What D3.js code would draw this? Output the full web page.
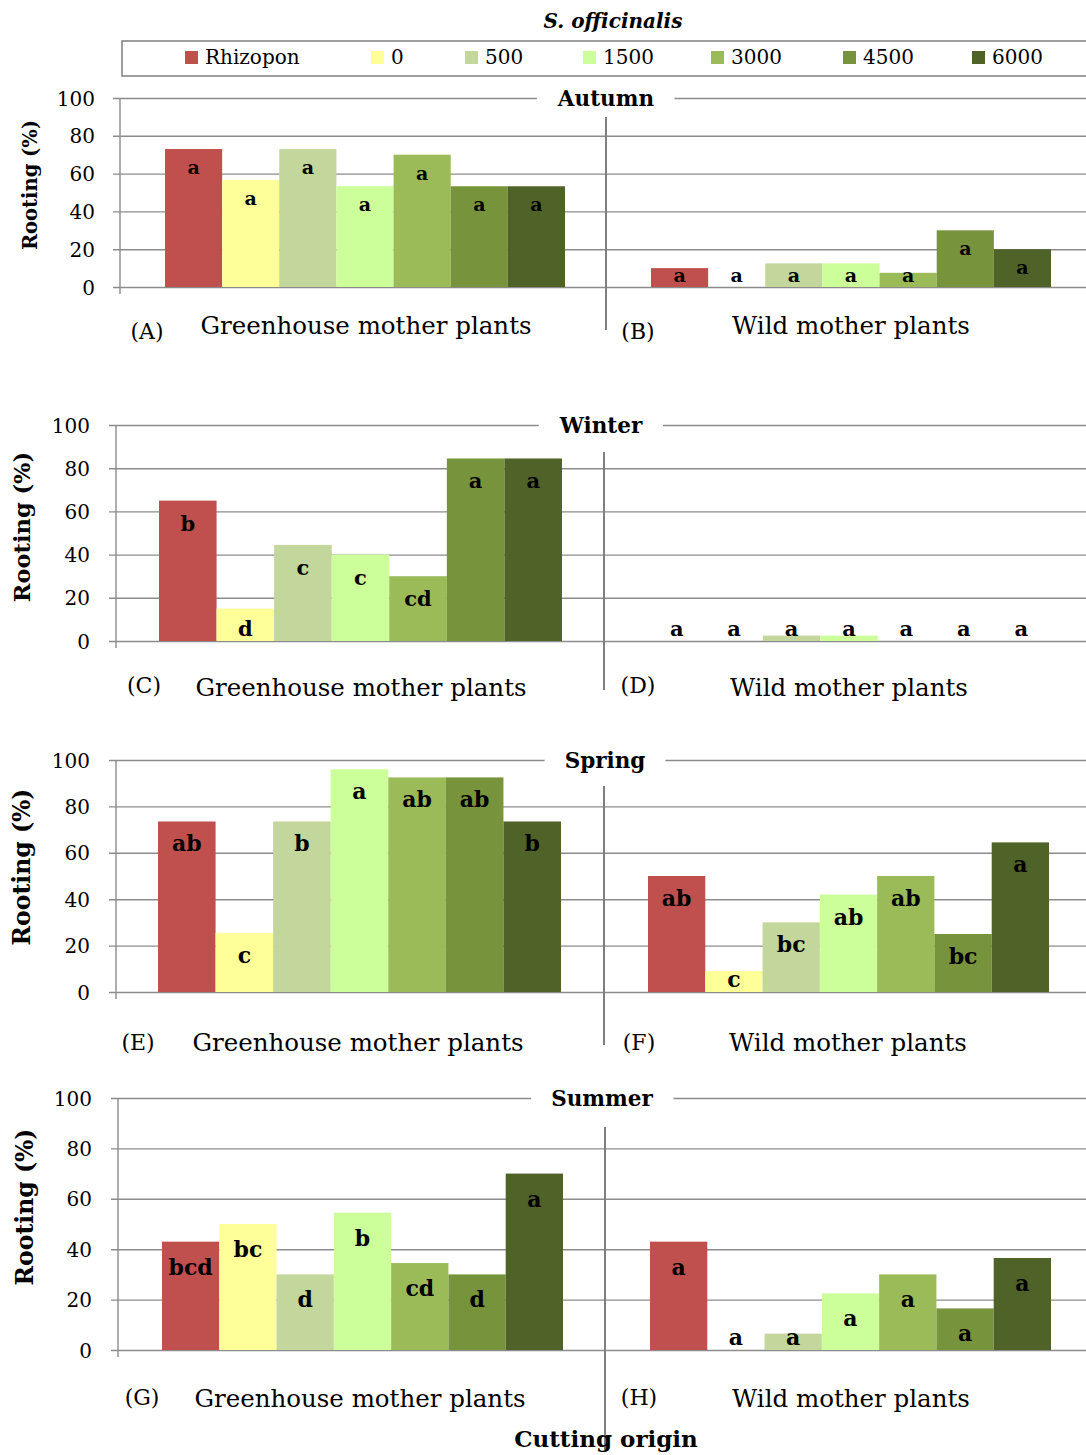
<!DOCTYPE html>
<html>
<head>
<meta charset="utf-8">
<script src="https://cdn.jsdelivr.net/npm/d3@7"></script>
<style>
  body { margin: 0; background: #fff; }
  svg { display: block; }
  text { font-family: "Palatino Linotype", "Book Antiqua", Palatino, "DejaVu Serif", serif; fill: #000; }
</style>
</head>
<body>
<div id="chart"></div>
<script>
// treatments (IBA ppm) and their colours
var treatments = ["Rhizopon", "0", "500", "1500", "3000", "4500", "6000"];
var colors = ["#C0504D", "#FFFF99", "#C3D69B", "#CCFF99", "#9BBB59", "#77933C", "#4F6228"];

var seasons = ["Autumn", "Winter", "Spring", "Summer"];
var origins = ["Greenhouse mother plants", "Wild mother plants"];
var tags = [["(A)", "(B)"], ["(C)", "(D)"], ["(E)", "(F)"], ["(G)", "(H)"]];
var yTicks = [0, 20, 40, 60, 80, 100];

// rooting (%)
var autumnGreen = [73, 56.7, 73, 53.3, 70, 53.3, 53.3];
var autumnWild = [10, 0, 12.5, 12.5, 7.5, 30, 20];
var winterGreen = [65, 15, 44.5, 40, 30, 84.5, 84.5];
var winterWild = [0, 0, 2.5, 2.5, 0, 0, 0];
var springGreen = [73.5, 25.5, 73.5, 96, 92.5, 92.5, 73.5];
var springWild = [50, 9, 30, 42, 50, 25, 64.5];
var summerGreen = [43, 50, 30, 54.5, 34.5, 30, 70];
var summerWild = [43, 0, 6.5, 22.5, 30, 16.5, 36.5];

// significance letters
var autumnGreenL = ["a", "a", "a", "a", "a", "a", "a"];
var autumnWildL = ["a", "a", "a", "a", "a", "a", "a"];
var winterGreenL = ["b", "d", "c", "c", "cd", "a", "a"];
var winterWildL = ["a", "a", "a", "a", "a", "a", "a"];
var springGreenL = ["ab", "c", "b", "a", "ab", "ab", "b"];
var springWildL = ["ab", "c", "bc", "ab", "ab", "bc", "a"];
var summerGreenL = ["bcd", "bc", "d", "b", "cd", "d", "a"];
var summerWildL = ["a", "a", "a", "a", "a", "a", "a"];

var values = [[autumnGreen, autumnWild], [winterGreen, winterWild], [springGreen, springWild], [summerGreen, summerWild]];
var letters = [[autumnGreenL, autumnWildL], [winterGreenL, winterWildL], [springGreenL, springWildL], [summerGreenL, summerWildL]];

// panel layout (pixels)
var panels = [
  {ax: 120, top: 98, base: 287, left: [165, 565], right: [651, 1051], divX: 606, div: [117, 330], titleX: 606,
   cap: [366, 851], capY: 334, tag: [147, 638], tagY: 339, yl: [30, 185, 19.5], tx: 95, off: 25, fs: 19},
  {ax: 116, top: 425, base: 641, left: [159, 562], right: [648, 1050], divX: 604, div: [452, 690], titleX: 601,
   cap: [361, 849], capY: 696, tag: [144, 638], tagY: 693, yl: [22, 527, 22.5], tx: 90, off: 30, fs: 21},
  {ax: 116, top: 760, base: 992, left: [158, 561], right: [648, 1049], divX: 604, div: [786, 1045], titleX: 605,
   cap: [358, 848], capY: 1051, tag: [138, 639], tagY: 1050, yl: [22, 867, 23.5], tx: 90, off: 30, fs: 22},
  {ax: 118, top: 1098, base: 1350, left: [162, 563], right: [650, 1051], divX: 605, div: [1127, 1450], titleX: 602,
   cap: [360, 851], capY: 1407, tag: [142, 639], tagY: 1405, yl: [25, 1207, 23.5], tx: 92, off: 33, fs: 22}
];
var W = 1086, H = 1455;

var svg = d3.select("#chart").append("svg")
    .attr("width", W)
    .attr("height", H);

// title + legend
svg.append("text")
    .attr("x", 613).attr("y", 28)
    .attr("text-anchor", "middle")
    .style("font-weight", "bold").style("font-style", "italic").style("font-size", "20px")
    .text("S. officinalis");

svg.append("rect")
    .attr("x", 122).attr("y", 41)
    .attr("width", 980).attr("height", 35)
    .attr("fill", "none").attr("stroke", "#7f7f7f").attr("stroke-width", 1.5);

var legX = [185, 371, 465, 583, 711, 843, 972];
var leg = svg.append("g").selectAll("g")
    .data(treatments).enter()
    .append("g")
    .attr("transform", function(d, i) { return "translate(" + legX[i] + ",51)"; });
leg.append("rect")
    .attr("width", 13).attr("height", 13)
    .attr("fill", function(d, i) { return colors[i]; });
leg.append("text")
    .attr("x", 20).attr("y", 13)
    .style("font-size", "20px")
    .text(function(d) { return d; });

panels.forEach(function(p, pi) {
  var g = svg.append("g");

  var y = d3.scaleLinear().domain([0, 100]).range([p.base, p.top]);

  // y axis + gridlines
  var axis = d3.axisLeft(y)
      .tickValues(yTicks)
      .tickSize(-(W - p.ax))
      .tickPadding(0)
      .tickFormat(d3.format("d"));
  var ag = g.append("g")
      .attr("transform", "translate(" + p.ax + ",0)")
      .call(axis);
  ag.select(".domain").remove();
  ag.selectAll(".tick line")
      .attr("x1", -7)
      .attr("stroke", "#8c8c8c")
      .attr("stroke-width", 1.4);
  ag.selectAll(".tick text")
      .attr("x", p.tx - p.ax)
      .attr("dy", "0.35em")
      .attr("font-size", null)
      .attr("font-family", null)
      .style("font-size", "20px")
      .attr("fill", "#000");

  g.append("line")
      .attr("x1", p.ax).attr("x2", p.ax)
      .attr("y1", p.top).attr("y2", p.base + 7)
      .attr("stroke", "#8c8c8c").attr("stroke-width", 1.4);

  // season title over the 100 line
  var gap = g.append("rect").attr("fill", "#fff");
  var t = g.append("text")
      .attr("x", p.titleX).attr("y", p.top)
      .attr("dy", "0.35em")
      .attr("text-anchor", "middle")
      .style("font-weight", "bold").style("font-size", "21.5px")
      .text(seasons[pi]);
  var bb = t.node().getBBox();
  gap.attr("x", bb.x - 20).attr("y", p.top - 3)
      .attr("width", bb.width + 40).attr("height", 6);

  // divider between origins
  g.append("line")
      .attr("x1", p.divX).attr("x2", p.divX)
      .attr("y1", p.div[0]).attr("y2", p.div[1])
      .attr("stroke", "#7f7f7f").attr("stroke-width", 2);

  // y label
  g.append("text")
      .attr("transform", "translate(" + p.yl[0] + "," + p.yl[1] + ") rotate(-90)")
      .attr("dy", "0.35em")
      .attr("text-anchor", "middle")
      .style("font-weight", "bold").style("font-size", p.yl[2] + "px")
      .text("Rooting (%)");

  [p.left, p.right].forEach(function(range, oi) {
    var x = d3.scaleBand().domain(treatments).range(range).padding(0);
    var vals = values[pi][oi], lets = letters[pi][oi];
    var bars = g.append("g");
    bars.selectAll("rect")
        .data(vals).enter()
        .append("rect")
        .attr("x", function(d, i) { return x(treatments[i]); })
        .attr("width", x.bandwidth())
        .attr("y", function(d) { return y(d); })
        .attr("height", function(d) { return p.base - y(d); })
        .attr("fill", function(d, i) { return colors[i]; });
    bars.selectAll("text")
        .data(vals).enter()
        .append("text")
        .attr("x", function(d, i) { return x(treatments[i]) + x.bandwidth() / 2; })
        .attr("y", function(d) { return Math.min(y(d) + p.off, p.base - 5); })
        .attr("text-anchor", "middle")
        .style("font-weight", "bold").style("font-size", p.fs + "px")
        .text(function(d, i) { return lets[i]; });

    // origin caption and panel tag
    g.append("text")
        .attr("x", p.cap[oi]).attr("y", p.capY)
        .attr("text-anchor", "middle")
        .style("font-size", "24.5px")
        .text(origins[oi]);
    g.append("text")
        .attr("x", p.tag[oi]).attr("y", p.tagY)
        .attr("text-anchor", "middle")
        .style("font-size", "22px")
        .text(tags[pi][oi]);
  });
});

svg.append("text")
    .attr("x", 606).attr("y", 1447)
    .attr("text-anchor", "middle")
    .style("font-weight", "bold").style("font-size", "23px")
    .text("Cutting origin");
</script>
</body>
</html>
